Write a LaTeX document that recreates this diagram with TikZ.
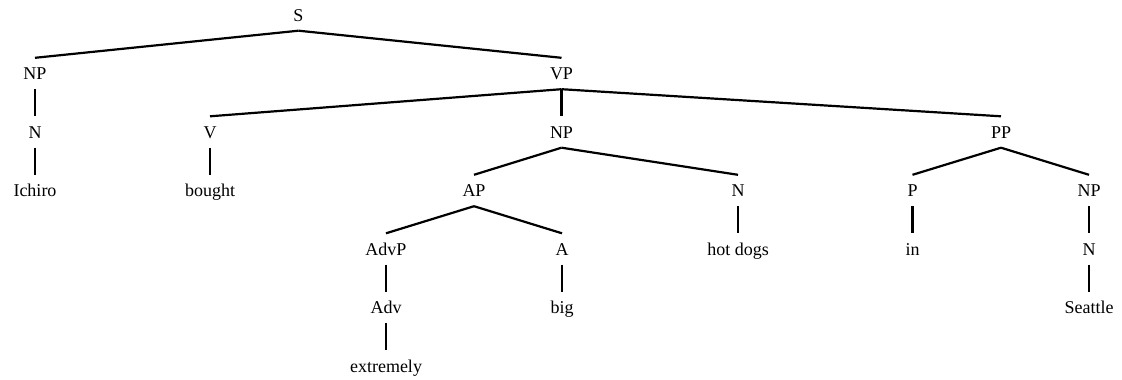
\documentclass[tikz,border=0pt]{standalone}
\usepackage{fontspec}
\setmainfont{Liberation Serif}
\begin{document}
\begin{tikzpicture}[x=1pt,y=-1pt,
  lbl/.style={inner xsep=0pt,inner ysep=8pt,text height=13.5pt,text depth=1.5pt,
    font=\fontsize{18}{20}\selectfont},
  br/.style={line width=2.2pt,line cap=butt}]
\useasboundingbox (0,0) rectangle (1122,380);
\node[lbl] (S) at (298.5,15) {S};
\node[lbl] (NPa) at (35,73.5) {NP};
\node[lbl] (VP) at (561.5,73.5) {VP};
\node[lbl] (Na) at (35,132) {N};
\node[lbl] (V) at (210,132) {V};
\node[lbl] (NPb) at (561.5,132) {NP};
\node[lbl] (PP) at (1001,132) {PP};
\node[lbl] (Ichiro) at (35,190.5) {Ichiro};
\node[lbl] (bought) at (210,190.5) {bought};
\node[lbl] (AP) at (474,190.5) {AP};
\node[lbl] (Nb) at (738,190.5) {N};
\node[lbl] (P) at (912.5,190.5) {P};
\node[lbl] (NPc) at (1089,190.5) {NP};
\node[lbl] (AdvP) at (386,249) {AdvP};
\node[lbl] (A) at (562,249) {A};
\node[lbl] (hotdogs) at (738,249) {hot dogs};
\node[lbl] (in) at (912.5,249) {in};
\node[lbl] (Nc) at (1089,249) {N};
\node[lbl] (Adv) at (386,307.5) {Adv};
\node[lbl] (big) at (562,307.5) {big};
\node[lbl] (Seattle) at (1089,307.5) {Seattle};
\node[lbl] (extremely) at (386,366) {extremely};
\foreach \p/\c in {S/NPa,S/VP,NPa/Na,Na/Ichiro,VP/V,VP/NPb,VP/PP,V/bought,
  NPb/AP,NPb/Nb,PP/P,PP/NPc,AP/AdvP,AP/A,Nb/hotdogs,P/in,NPc/Nc,
  AdvP/Adv,A/big,Nc/Seattle,Adv/extremely}
  \draw[br] (\p.south) -- (\c.north);
\end{tikzpicture}
\end{document}
